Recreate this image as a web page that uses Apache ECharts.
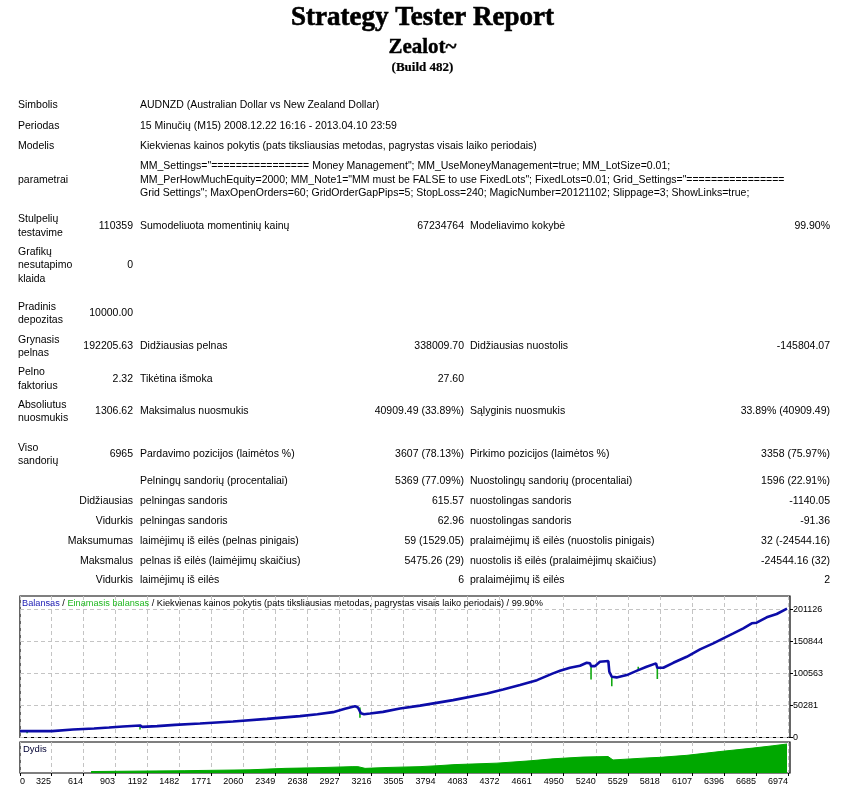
<!DOCTYPE html>
<html><head><meta charset="utf-8">
<script src="https://cdn.jsdelivr.net/npm/echarts@6/dist/echarts.min.js"></script>
<style>html,body{margin:0;padding:0;background:#fff}#c{width:845px;height:794px}</style>
</head><body><div id="c"></div>
<script>
// ---------- DATA ----------
const HEADER = ['Strategy Tester Report', 'Zealot~', '(Build 482)'];
const INFO_ROWS = [
  ['Simbolis', 'AUDNZD (Australian Dollar vs New Zealand Dollar)'],
  ['Periodas', '15 Minučių (M15) 2008.12.22 16:16 - 2013.04.10 23:59'],
  ['Modelis', 'Kiekvienas kainos pokytis (pats tiksliausias metodas, pagrystas visais laiko periodais)']
];
const PARAM_LABEL = 'parametrai';
const PARAM_LINES = [
  'MM_Settings="================ Money Management"; MM_UseMoneyManagement=true; MM_LotSize=0.01;',
  'MM_PerHowMuchEquity=2000; MM_Note1="MM must be FALSE to use FixedLots"; FixedLots=0.01; Grid_Settings="================',
  'Grid Settings"; MaxOpenOrders=60; GridOrderGapPips=5; StopLoss=240; MagicNumber=20121102; Slippage=3; ShowLinks=true;'
];
const STAT_ROWS = [
  [['Stulpelių', 'testavime'], '110359', 'Sumodeliuota momentinių kainų', '67234764', 'Modeliavimo kokybė', '99.90%'],
  [['Grafikų', 'nesutapimo', 'klaida'], '0', '', '', '', ''],
  [['Pradinis', 'depozitas'], '10000.00', '', '', '', ''],
  [['Grynasis', 'pelnas'], '192205.63', 'Didžiausias pelnas', '338009.70', 'Didžiausias nuostolis', '-145804.07'],
  [['Pelno', 'faktorius'], '2.32', 'Tikėtina išmoka', '27.60', '', ''],
  [['Absoliutus', 'nuosmukis'], '1306.62', 'Maksimalus nuosmukis', '40909.49 (33.89%)', 'Sąlyginis nuosmukis', '33.89% (40909.49)'],
  [['Viso', 'sandorių'], '6965', 'Pardavimo pozicijos (laimėtos %)', '3607 (78.13%)', 'Pirkimo pozicijos (laimėtos %)', '3358 (75.97%)']
];
const TRADE_ROWS = [
  ['', 'Pelningų sandorių (procentaliai)', '5369 (77.09%)', 'Nuostolingų sandorių (procentaliai)', '1596 (22.91%)'],
  ['Didžiausias', 'pelningas sandoris', '615.57', 'nuostolingas sandoris', '-1140.05'],
  ['Vidurkis', 'pelningas sandoris', '62.96', 'nuostolingas sandoris', '-91.36'],
  ['Maksumumas', 'laimėjimų iš eilės (pelnas pinigais)', '59 (1529.05)', 'pralaimėjimų iš eilės (nuostolis pinigais)', '32 (-24544.16)'],
  ['Maksmalus', 'pelnas iš eilės (laimėjimų skaičius)', '5475.26 (29)', 'nuostolis iš eilės (pralaimėjimų skaičius)', '-24544.16 (32)'],
  ['Vidurkis', 'laimėjimų iš eilės', '6', 'pralaimėjimų iš eilės', '2']
];
const CHART_LEGEND = ['Balansas', 'Einamasis balansas', 'Kiekvienas kainos pokytis (pats tiksliausias metodas, pagrystas visais laiko periodais) / 99.90%'];
const VOLUME_LABEL = 'Dydis';

const X_TICKS = [0, 325, 614, 903, 1192, 1482, 1771, 2060, 2349, 2638, 2927, 3216, 3505, 3794, 4083, 4372, 4661, 4950, 5240, 5529, 5818, 6107, 6396, 6685, 6974];
const Y_TICKS = [0, 50281, 100563, 150844, 201126];

const BAL_T = [45, 334, 343, 523, 532, 713, 722, 848, 857, 974, 983, 1128, 1148, 1281, 1443, 1669, 1967, 2274, 2571, 2728, 2869, 2977, 3067, 3094, 3121, 3149, 3203, 3320, 3473, 3654, 3952, 4258, 4403, 4556, 4709, 4854, 4917, 5007, 5097, 5158, 5188, 5197, 5233, 5277, 5353, 5362, 5384, 5428, 5519, 5623, 5698, 5783, 5795, 5849, 5939, 6060, 6180, 6300, 6390, 6481, 6571, 6647, 6691, 6782, 6872, 6965];
const BAL_V = [10000, 10000, 12600, 12600, 14100, 14100, 15700, 15700, 17300, 17300, 18900, 18900, 16700, 17800, 19800, 22000, 25100, 29200, 33500, 36500, 39800, 45000, 49200, 47100, 38000, 36600, 37700, 40200, 45600, 50000, 58600, 69100, 75400, 82200, 90000, 100600, 104600, 109400, 112500, 117200, 116300, 112000, 112000, 118800, 119900, 103100, 95300, 94300, 97900, 105700, 111000, 116300, 109400, 109400, 117200, 126600, 138300, 147700, 155600, 163400, 171300, 179200, 180100, 188600, 193800, 202200];

// equity excursions: [trade, balance level, equity level]
const EQ_T = [109, 1128, 3112, 5197, 5384, 5623, 5795];
const EQ_FROM = [10000, 18900, 47100, 112000, 95300, 105700, 109400];
const EQ_TO = [6500, 12600, 31000, 91100, 80600, 110900, 91600];

const VOL_T = [686, 1533, 2120, 2436, 2707, 3041, 3094, 3158, 3356, 3654, 3807, 3970, 4348, 4646, 4854, 5124, 5350, 5395, 5702, 5819, 6062, 6360, 6658, 6838, 6965];
const VOL_V = [0.05, 0.08, 0.11, 0.16, 0.18, 0.22, 0.22, 0.16, 0.19, 0.22, 0.25, 0.29, 0.34, 0.42, 0.49, 0.55, 0.57, 0.45, 0.52, 0.54, 0.61, 0.74, 0.86, 0.94, 1.0];

// ---------- LAYOUT ----------
const X_MIN = 45, X_MAX = 6992, Y_MAX = 222000, VOL_MAX = 1.07;
const TFONT = '"Liberation Sans", Arial, sans-serif';
const SFONT = 'Liberation Serif';
const TSIZE = 10.5;
function txt(text, x, y, align, extra) {
  const style = Object.assign({
    text: text, fill: '#000', fontSize: TSIZE, fontFamily: TFONT, fontWeight: 'normal',
    align: align || 'left', verticalAlign: 'middle',
    textAlign: align || 'left', textVerticalAlign: 'middle'
  }, extra || {});
  return { type: 'text', x: x, y: y, silent: true, style: style };
}
const G = [];
const C1L = 18, C1R = 133, C2L = 140, C3R = 464, C4L = 470, C5R = 830, LH = 13.5;
const INFO_Y = [105, 126, 146];
INFO_ROWS.forEach((r, i) => { G.push(txt(r[0], C1L, INFO_Y[i])); G.push(txt(r[1], C2L, INFO_Y[i])); });
const PARAM_Y = [166, 180, 193];
G.push(txt(PARAM_LABEL, C1L, 180));
PARAM_LINES.forEach((s, i) => G.push(txt(s, C2L, PARAM_Y[i])));

const STAT_Y = [226, 265.5, 313.5, 346.5, 379, 411.5, 454.5];
STAT_ROWS.forEach((r, i) => {
  const cy = STAT_Y[i], n = r[0].length;
  r[0].forEach((s, k) => G.push(txt(s, C1L, cy - (n - 1) * LH / 2 + k * LH)));
  G.push(txt(r[1], C1R, cy, 'right'));
  if (r[2]) G.push(txt(r[2], C2L, cy));
  if (r[3]) G.push(txt(r[3], C3R, cy, 'right'));
  if (r[4]) G.push(txt(r[4], C4L, cy));
  if (r[5]) G.push(txt(r[5], C5R, cy, 'right'));
});
const TRADE_Y = [481, 501, 521, 541, 561, 580];
TRADE_ROWS.forEach((r, i) => {
  const cy = TRADE_Y[i];
  if (r[0]) G.push(txt(r[0], C1R, cy, 'right'));
  G.push(txt(r[1], C2L, cy));
  G.push(txt(r[2], C3R, cy, 'right'));
  G.push(txt(r[3], C4L, cy));
  G.push(txt(r[4], C5R, cy, 'right'));
});

const balData = BAL_T.map((t, i) => [t, BAL_V[i]]);
const eqData = [];
EQ_T.forEach((t, i) => { eqData.push([t, EQ_FROM[i]]); eqData.push([t, EQ_TO[i]]); eqData.push([t, '-']); });
const volData = VOL_T.map((t, i) => [t, VOL_V[i]]);
const xTickPos = X_TICKS.map(v => Math.max(v, X_MIN));

function headStyle(size, bw) {
  return { fontSize: size, fontWeight: 'bold', fontFamily: SFONT, color: '#000',
    textBorderColor: '#000', textBorderWidth: bw };
}
const gridLine = { show: true, lineStyle: { color: '#c4c4c4', width: 1, type: [4, 3] } };
const chart = echarts.init(document.getElementById('c'), null, { renderer: 'canvas' });
chart.setOption({
  animation: false,
  backgroundColor: '#fff',
  title: [
    { text: HEADER[0], left: 'center', top: 5, padding: 0, textStyle: headStyle(27, 0.6) },
    { text: HEADER[1], left: 'center', top: 37, padding: 0, textStyle: headStyle(21, 0.4) },
    { text: HEADER[2], left: 'center', top: 61, padding: 0, textStyle: headStyle(13, 0.2) },
    { text: '{b|' + CHART_LEGEND[0] + '} / {g|' + CHART_LEGEND[1] + '} / ' + CHART_LEGEND[2],
      left: 22, top: 599, padding: 0,
      textStyle: { fontSize: 9.2, fontWeight: 'normal', color: '#000', fontFamily: TFONT,
        rich: { b: { color: '#1a1ab4', fontSize: 9.2, fontFamily: TFONT }, g: { color: '#20b820', fontSize: 9.2, fontFamily: TFONT } } } },
    { text: VOLUME_LABEL, left: 23, top: 744, padding: 0,
      textStyle: { fontSize: 9.5, fontWeight: 'normal', color: '#000033', fontFamily: TFONT } }
  ],
  graphic: { elements: G },
  grid: [
    { left: 20, right: 55, top: 596, height: 141.5, show: true, borderColor: '#000', borderWidth: 1.2, containLabel: false },
    { left: 20, right: 55, top: 742, height: 31, show: true, borderColor: '#000', borderWidth: 1.2, containLabel: false }
  ],
  xAxis: [
    { gridIndex: 0, type: 'value', min: X_MIN, max: X_MAX,
      axisLine: { show: false }, axisTick: { show: false, customValues: xTickPos },
      axisLabel: { show: false }, splitLine: gridLine },
    { gridIndex: 1, type: 'value', min: X_MIN, max: X_MAX,
      axisLine: { show: false },
      axisTick: { show: true, customValues: xTickPos, length: 3, lineStyle: { color: '#000' } },
      axisLabel: { customValues: xTickPos, fontSize: 9, color: '#000', fontFamily: TFONT, margin: 4,
        align: 'right', alignMinLabel: 'left',
        formatter: v => { const k = xTickPos.indexOf(v); return String(k >= 0 ? X_TICKS[k] : v); } },
      splitLine: gridLine }
  ],
  yAxis: [
    { gridIndex: 0, type: 'value', position: 'right', min: 0, max: Y_MAX,
      axisLine: { show: false },
      axisTick: { show: true, customValues: Y_TICKS, length: 3, lineStyle: { color: '#000' } },
      axisLabel: { customValues: Y_TICKS, fontSize: 9, color: '#000', fontFamily: TFONT, margin: 3,
        formatter: v => String(v) },
      splitLine: gridLine },
    { gridIndex: 1, type: 'value', min: 0, max: VOL_MAX, show: false, splitLine: { show: false } }
  ],
  series: [
    { type: 'line', name: 'Einamasis balansas', xAxisIndex: 0, yAxisIndex: 0, data: eqData,
      showSymbol: false, connectNulls: false, lineStyle: { color: '#10a810', width: 1.6 }, z: 2 },
    { type: 'line', name: 'Balansas', xAxisIndex: 0, yAxisIndex: 0, data: balData,
      showSymbol: false, lineStyle: { color: '#0c0ca8', width: 2.6 }, z: 3 },
    { type: 'line', name: 'Dydis', xAxisIndex: 1, yAxisIndex: 1, data: volData,
      showSymbol: false, lineStyle: { color: '#00a800', width: 1 },
      areaStyle: { color: '#00a800', opacity: 1 }, z: 2 }
  ]
});
</script></body></html>
